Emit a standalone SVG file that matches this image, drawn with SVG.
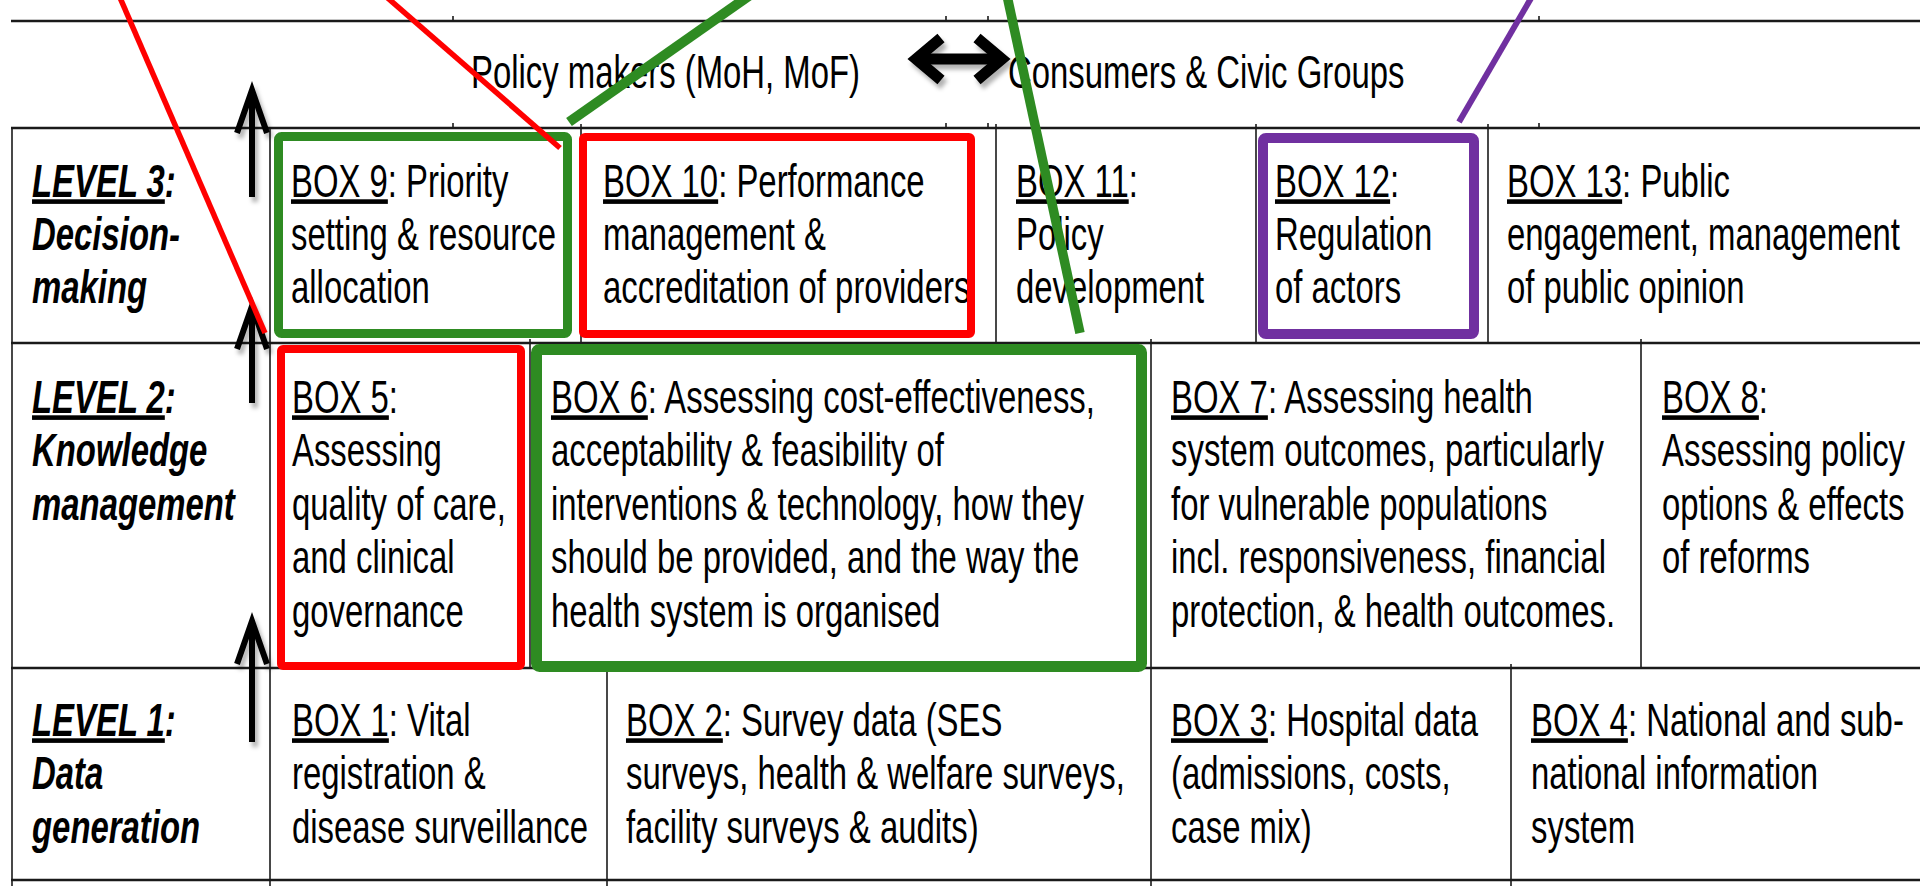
<svg xmlns="http://www.w3.org/2000/svg" width="1920" height="886" viewBox="0 0 1920 886">
  <defs>
    <style>
      .t { font-family: "Liberation Sans", Arial, sans-serif; font-size: 46px; fill: #000; }
      .lv { font-weight: bold; font-style: italic; }
      .u { text-decoration: underline; }
      .h { stroke: #1a1a1a; stroke-width: 2.5; }
      .v { stroke: #1a1a1a; stroke-width: 1.6; }
      .hl { fill: none; stroke-linejoin: round; }
      .arr { fill: none; stroke: #000; stroke-linecap: butt; stroke-linejoin: miter; }
    </style>
    <filter id="shadow" x="-50%" y="-50%" width="200%" height="200%">
      <feDropShadow dx="3" dy="5" stdDeviation="2" flood-color="#000" flood-opacity="0.3"/>
    </filter>
  </defs>

  <rect width="1920" height="886" fill="#fff"/>

  <!-- table rules -->
  <g id="grid">
    <line class="h" x1="11" y1="21" x2="1920" y2="21"/>
    <line class="h" x1="11" y1="128" x2="1920" y2="128"/>
    <line class="h" x1="11" y1="343" x2="1920" y2="343"/>
    <line class="h" x1="11" y1="668" x2="1920" y2="668"/>
    <line class="h" x1="11" y1="880" x2="1920" y2="880"/>
    <line class="v" x1="12" y1="128" x2="12" y2="886"/>
    <line class="v" x1="270" y1="128" x2="270" y2="886"/>
    <line class="v" x1="581" y1="124" x2="581" y2="343"/>
    <line class="v" x1="996" y1="124" x2="996" y2="343"/>
    <line class="v" x1="1256" y1="124" x2="1256" y2="343"/>
    <line class="v" x1="1488" y1="124" x2="1488" y2="343"/>
    <line class="v" x1="530" y1="339" x2="530" y2="668"/>
    <line class="v" x1="1151" y1="339" x2="1151" y2="886"/>
    <line class="v" x1="1641" y1="339" x2="1641" y2="668"/>
    <line class="v" x1="607" y1="664" x2="607" y2="886"/>
    <line class="v" x1="1511" y1="664" x2="1511" y2="886"/>
    <g class="v">
      <line x1="453" y1="16" x2="453" y2="21"/>
      <line x1="946" y1="16" x2="946" y2="21"/>
      <line x1="988" y1="16" x2="988" y2="21"/>
      <line x1="1539" y1="16" x2="1539" y2="21"/>
      <line x1="453" y1="123" x2="453" y2="128"/>
      <line x1="946" y1="123" x2="946" y2="128"/>
      <line x1="988" y1="123" x2="988" y2="128"/>
      <line x1="1539" y1="123" x2="1539" y2="128"/>
    </g>
  </g>

  <!-- all labels share a horizontal squeeze of 0.715 -->
  <g id="labels" class="t" transform="scale(0.715 1)">
    <g id="actors">
      <text x="658.7" y="88">Policy makers (MoH, MoF)</text>
      <text x="1409.8" y="88">Consumers &amp; Civic Groups</text>
    </g>

    <g id="level3">
      <text class="lv" x="44.8" y="197"><tspan class="u">LEVEL 3</tspan>:</text>
      <text class="lv" x="44.8" y="250">Decision-</text>
      <text class="lv" x="44.8" y="303">making</text>
    </g>
    <g id="box9">
      <text x="407" y="197"><tspan class="u">BOX 9</tspan>: Priority</text>
      <text x="407" y="250">setting &amp; resource</text>
      <text x="407" y="303">allocation</text>
    </g>
    <g id="box10">
      <text x="843.4" y="197"><tspan class="u">BOX 10</tspan>: Performance</text>
      <text x="843.4" y="250">management &amp;</text>
      <text x="843.4" y="303">accreditation of providers</text>
    </g>
    <g id="box11">
      <text x="1421" y="197"><tspan class="u">BOX 11</tspan>:</text>
      <text x="1421" y="250">Policy</text>
      <text x="1421" y="303">development</text>
    </g>
    <g id="box12">
      <text x="1783.2" y="197"><tspan class="u">BOX 12</tspan>:</text>
      <text x="1783.2" y="250">Regulation</text>
      <text x="1783.2" y="303">of actors</text>
    </g>
    <g id="box13">
      <text x="2107.7" y="197"><tspan class="u">BOX 13</tspan>: Public</text>
      <text x="2107.7" y="250">engagement, management</text>
      <text x="2107.7" y="303">of public opinion</text>
    </g>

    <g id="level2">
      <text class="lv" x="44.8" y="413"><tspan class="u">LEVEL 2</tspan>:</text>
      <text class="lv" x="44.8" y="466.5">Knowledge</text>
      <text class="lv" x="44.8" y="520">management</text>
    </g>
    <g id="box5">
      <text x="408.4" y="413"><tspan class="u">BOX 5</tspan>:</text>
      <text x="408.4" y="466.5">Assessing</text>
      <text x="408.4" y="520">quality of care,</text>
      <text x="408.4" y="573.5">and clinical</text>
      <text x="408.4" y="627">governance</text>
    </g>
    <g id="box6">
      <text x="770.6" y="413"><tspan class="u">BOX 6</tspan>: Assessing cost-effectiveness,</text>
      <text x="770.6" y="466.5">acceptability &amp; feasibility of</text>
      <text x="770.6" y="520">interventions &amp; technology, how they</text>
      <text x="770.6" y="573.5">should be provided, and the way the</text>
      <text x="770.6" y="627">health system is organised</text>
    </g>
    <g id="box7">
      <text x="1637.8" y="413"><tspan class="u">BOX 7</tspan>: Assessing health</text>
      <text x="1637.8" y="466.5">system outcomes, particularly</text>
      <text x="1637.8" y="520">for vulnerable populations</text>
      <text x="1637.8" y="573.5">incl. responsiveness, financial</text>
      <text x="1637.8" y="627">protection, &amp; health outcomes.</text>
    </g>
    <g id="box8">
      <text x="2324.5" y="413"><tspan class="u">BOX 8</tspan>:</text>
      <text x="2324.5" y="466.5">Assessing policy</text>
      <text x="2324.5" y="520">options &amp; effects</text>
      <text x="2324.5" y="573.5">of reforms</text>
    </g>

    <g id="level1">
      <text class="lv" x="44.8" y="736"><tspan class="u">LEVEL 1</tspan>:</text>
      <text class="lv" x="44.8" y="789.5">Data</text>
      <text class="lv" x="44.8" y="843">generation</text>
    </g>
    <g id="box1">
      <text x="408.4" y="736"><tspan class="u">BOX 1</tspan>: Vital</text>
      <text x="408.4" y="789.5">registration &amp;</text>
      <text x="408.4" y="843">disease surveillance</text>
    </g>
    <g id="box2">
      <text x="875.5" y="736"><tspan class="u">BOX 2</tspan>: Survey data (SES</text>
      <text x="875.5" y="789.5">surveys, health &amp; welfare surveys,</text>
      <text x="875.5" y="843">facility surveys &amp; audits)</text>
    </g>
    <g id="box3">
      <text x="1637.8" y="736"><tspan class="u">BOX 3</tspan>: Hospital data</text>
      <text x="1637.8" y="789.5">(admissions, costs,</text>
      <text x="1637.8" y="843">case mix)</text>
    </g>
    <g id="box4">
      <text x="2141.3" y="736"><tspan class="u">BOX 4</tspan>: National and sub-</text>
      <text x="2141.3" y="789.5">national information</text>
      <text x="2141.3" y="843">system</text>
    </g>
  </g>

  <!-- highlight frames -->
  <g id="highlights" class="hl">
    <rect id="frame-box9" x="278.5" y="136.5" width="289" height="197" rx="3" stroke="#2E8B22" stroke-width="9"/>
    <rect id="frame-box10" x="583" y="137" width="388" height="197" rx="2" stroke="#FF0000" stroke-width="8"/>
    <rect id="frame-box12" x="1263" y="138" width="211" height="196" rx="3" stroke="#7030A0" stroke-width="10"/>
    <rect id="frame-box5" x="281" y="349" width="240" height="317" rx="2" stroke="#FF0000" stroke-width="8"/>
    <rect id="frame-box6" x="536.5" y="349.5" width="605" height="317" rx="3" stroke="#2E8B22" stroke-width="11"/>
  </g>

  <!-- flow arrows between levels and between actors -->
  <g id="level-arrows" class="arr" filter="url(#shadow)">
    <g stroke-width="6">
      <line x1="252" y1="197" x2="252" y2="94"/>
      <polyline points="237,133 252,90 267,133"/>
      <line x1="252" y1="403" x2="252" y2="310"/>
      <polyline points="237,349 252,306 267,349"/>
      <line x1="252" y1="742" x2="252" y2="625"/>
      <polyline points="237,664 252,621 267,664"/>
    </g>
    <g stroke-width="11">
      <line x1="918" y1="59" x2="1000" y2="59"/>
      <polyline points="941,38 916,59 941,80"/>
      <polyline points="977,38 1002,59 977,80"/>
    </g>
  </g>

  <!-- pointer lines -->
  <g id="connectors" fill="none" stroke-linecap="butt">
    <line x1="116.7" y1="-10" x2="265" y2="333" stroke="#FF0000" stroke-width="5.5"/>
    <line x1="378.5" y1="-10" x2="560" y2="148" stroke="#FF0000" stroke-width="5.5"/>
    <line x1="757.3" y1="-10" x2="569" y2="122" stroke="#2E8B22" stroke-width="10"/>
    <line x1="1005.8" y1="-10" x2="1080" y2="333" stroke="#2E8B22" stroke-width="9.5"/>
    <line x1="1535.8" y1="-10" x2="1459" y2="122" stroke="#7030A0" stroke-width="6"/>
  </g>
</svg>
